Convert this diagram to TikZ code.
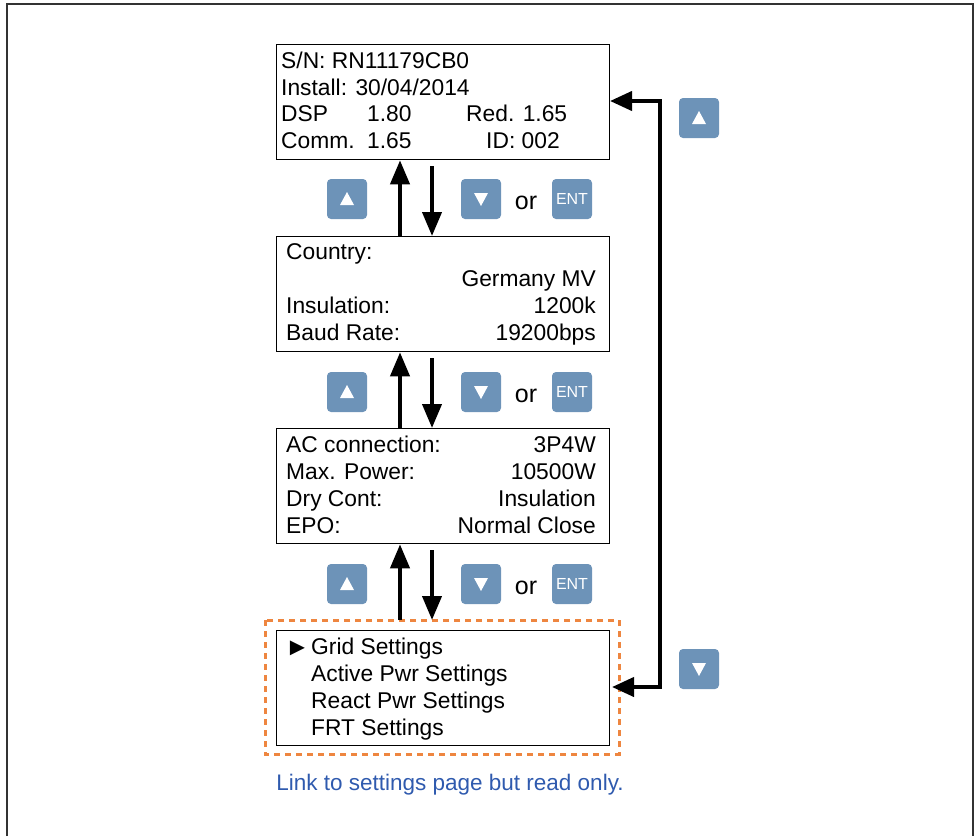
\documentclass[tikz,border=0pt]{standalone}
\usepackage{fontspec}
\setmainfont{Liberation Sans}
\usepackage{xcolor}
\usetikzlibrary{arrows.meta,positioning,calc}
\definecolor{uiKey}{HTML}{6D93B8}
\definecolor{uiOrange}{HTML}{EE8640}
\definecolor{uiNote}{HTML}{2F5AAE}
\definecolor{uiFrame}{HTML}{333333}
\tikzset{
  ui diagram/.style={x=1pt, y=-1pt, font=\fontsize{22.8}{26}\selectfont,
    line cap=butt, line join=miter},
  ui screen/.style={draw=black, line width=1.3pt, fill=white,
    minimum width=333pt, minimum height=115pt, inner sep=0pt, anchor=north west},
  ui line/.style={anchor=base west, inner sep=0pt},
  ui line right/.style={anchor=base east, inner sep=0pt},
  ui key/.style={fill=uiKey, rounded corners=4pt, minimum size=40pt, inner sep=0pt,
    text=white},
  ui arrow/.style={-{Triangle[length=24pt, width=19pt]}, line width=4pt},
  ui loop/.style={{Triangle[length=22pt, width=19pt]}-{Triangle[length=22pt, width=19pt]},
    line width=4pt},
  ui focus/.style={draw=uiOrange, line width=3pt, dash pattern=on 6pt off 5pt}
}
\newcommand{\keyup}[1]{\fill[white] ($(#1)+(-7,6)$) -- ($(#1)+(7,6)$) -- ($(#1)+(0,-7)$) -- cycle;}
\newcommand{\keydown}[1]{\fill[white] ($(#1)+(-7,-6)$) -- ($(#1)+(7,-6)$) -- ($(#1)+(0,7)$) -- cycle;}

\begin{document}
\begin{tikzpicture}[ui diagram]
\useasboundingbox (0,0) rectangle (979,836);
% outer frame, open at the bottom
\draw[uiFrame, line width=2pt] (7,836) -- (7,4) -- (973,4) -- (973,836);

% the four screens
\node[ui screen] (info) at (276,44) {};
\node[ui screen] (grid) at (276,236) {};
\node[ui screen] (ac) at (276,428) {};
\node[ui screen] (menu) at (276,630) {};
\draw[ui focus] (265,620) rectangle (619,754);
\coordinate (focusE) at (612,687);

% screen 1
\node[ui line] at (281,68) {S/N: RN11179CB0};
\node[ui line] at (281,95) {Install: 30/04/2014};
\node[ui line] at (281,121) {DSP};
\node[ui line] at (367,121) {1.80};
\node[ui line] at (466,121) {Red. 1.65};
\node[ui line] at (281,148) {Comm.};
\node[ui line] at (367,148) {1.65};
\node[ui line] at (486,148) {ID: 002};

% screen 2
\node[ui line] at (286,259) {Country:};
\node[ui line right] at (596,286) {Germany MV};
\node[ui line] at (286,313) {Insulation:};
\node[ui line right] at (596,313) {1200k};
\node[ui line] at (286,340) {Baud Rate:};
\node[ui line right] at (596,340) {19200bps};

% screen 3
\node[ui line] at (286,452) {AC connection:};
\node[ui line right] at (596,452) {3P4W};
\node[ui line] at (286,479) {Max. Power:};
\node[ui line right] at (596,479) {10500W};
\node[ui line] at (286,506) {Dry Cont:};
\node[ui line right] at (596,506) {Insulation};
\node[ui line] at (286,533) {EPO:};
\node[ui line right] at (596,533) {Normal Close};

% screen 4
\node[ui line, font=\fontsize{25}{26}\selectfont] at (285,655) {►};
\node[ui line] at (311,654) {Grid Settings};
\node[ui line] at (311,681) {Active Pwr Settings};
\node[ui line] at (311,708) {React Pwr Settings};
\node[ui line] at (311,735) {FRT Settings};

% up / down links between screens
\coordinate (upx) at (400,0);
\coordinate (downx) at (432,0);
\draw[ui arrow] (grid.north -| upx) -- (info.south -| upx);
\draw[ui arrow] ([yshift=-6pt]info.south -| downx) -- (grid.north -| downx);
\draw[ui arrow] (ac.north -| upx) -- (grid.south -| upx);
\draw[ui arrow] ([yshift=-6pt]grid.south -| downx) -- (ac.north -| downx);
\draw[ui arrow] (265,620 -| upx) -- (ac.south -| upx);
\draw[ui arrow] ([yshift=-6pt]ac.south -| downx) -- (265,620 -| downx);

% keys next to the links
\foreach \row/\y in {a/199, b/392, c/584} {
  \node[ui key] (up\row) at (347,\y) {};
  \keyup{up\row}
  \node[ui key] (dn\row) at (481,\y) {};
  \keydown{dn\row}
  \node[font=\fontsize{25}{26}\selectfont, inner sep=0pt] (or\row) at (526,\y+4) {or};
  \node[ui key, font=\fontsize{16}{16}\selectfont] (ent\row) at (572,\y) {ENT};
}

% wrap-around loop on the right
\coordinate (infoE) at (610,101);
\draw[ui loop] (infoE) -- (660,101) -- (660,687) -- (focusE);
\node[ui key] (loopup) at (699,118) {};
\keyup{loopup}
\node[ui key] (loopdn) at (699,669) {};
\keydown{loopdn}

\node[text=uiNote, font=\fontsize{22.5}{24}\selectfont] (note) at (450,785) {Link to settings page but read only.};
\end{tikzpicture}
\end{document}
